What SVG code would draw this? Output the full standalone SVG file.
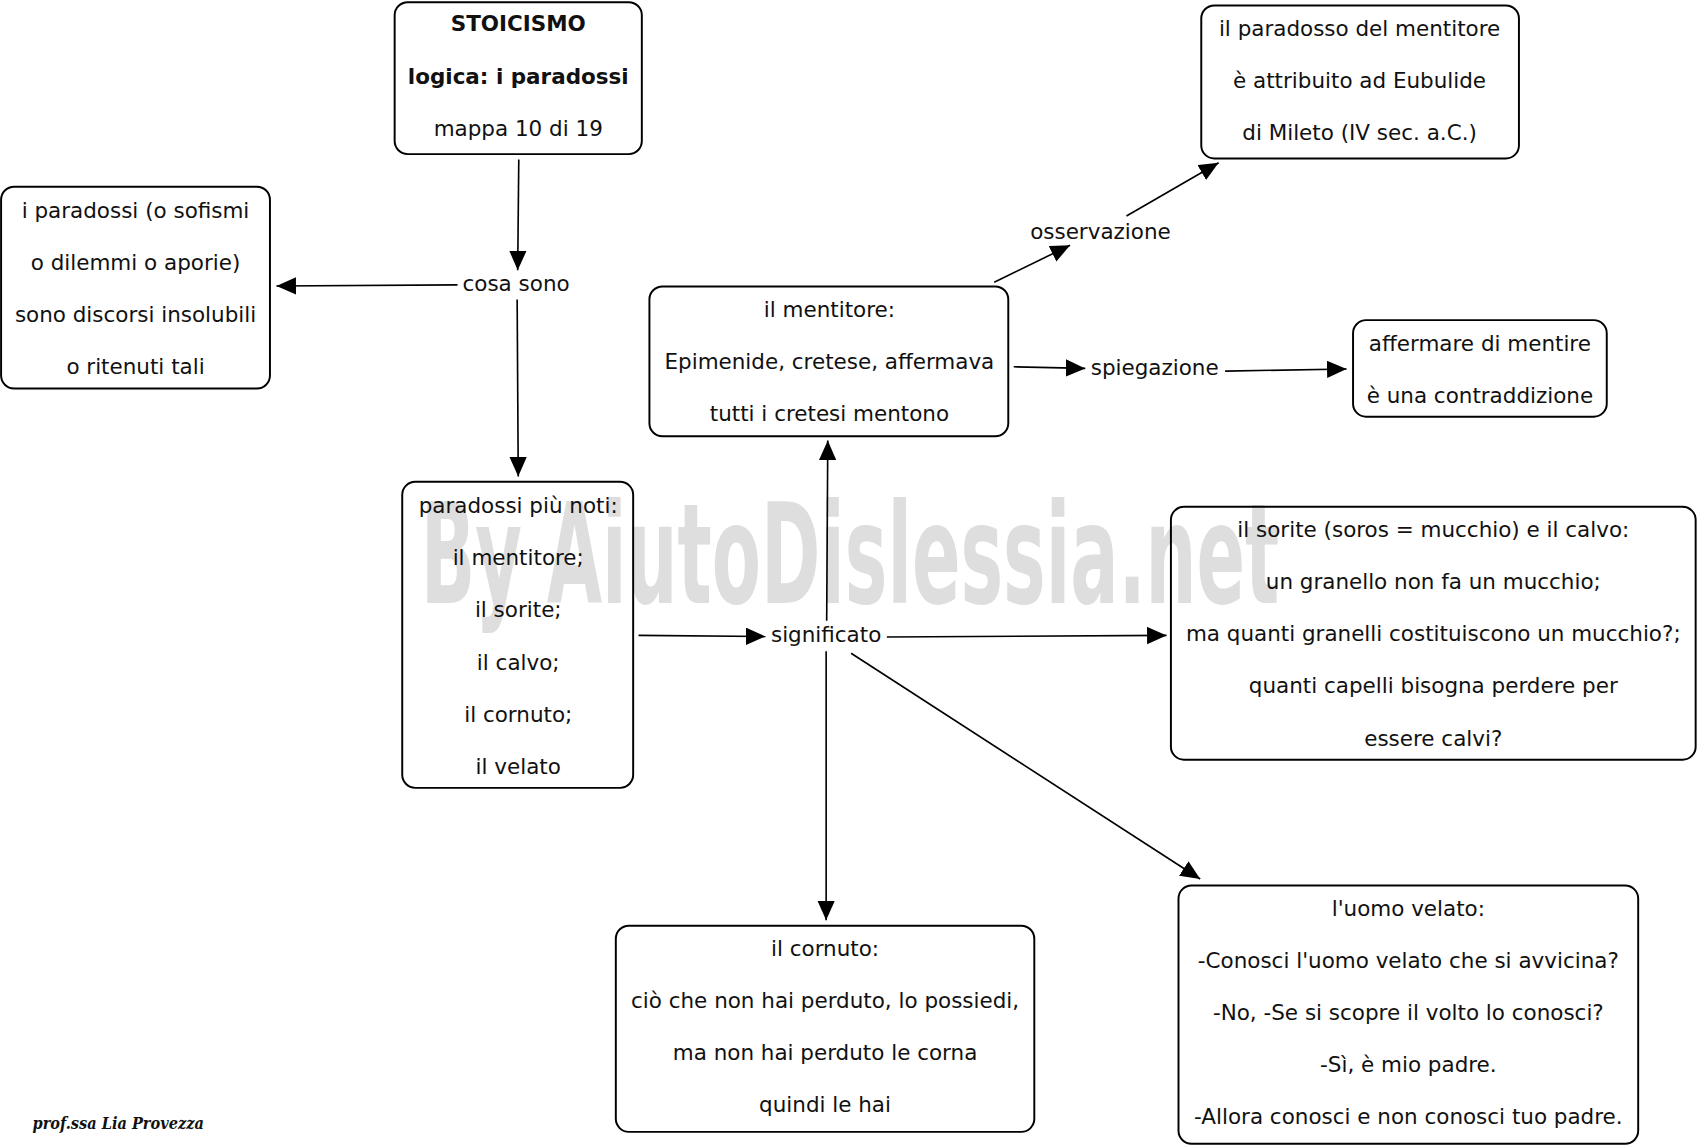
<svg xmlns="http://www.w3.org/2000/svg" width="1700" height="1146" viewBox="0 0 1700 1146">
<defs>
<marker id="ah" markerUnits="userSpaceOnUse" markerWidth="19" markerHeight="17" refX="18" refY="8" orient="auto">
<path d="M0,0 L18,8 L0,16 z" fill="#000"/>
</marker>
<style>
.box{fill:none;stroke:#000;stroke-width:1.8}
.t{font-family:"DejaVu Sans","Verdana",sans-serif;font-size:19.8px;fill:#111;text-anchor:middle}
.b{font-weight:bold}
.c{fill:none;stroke:#000;stroke-width:1.5;marker-end:url(#ah)}
.wm{font-family:"DejaVu Sans Condensed","DejaVu Sans",sans-serif;font-weight:bold;font-size:128px;fill:#dedede}
.sig{font-family:"DejaVu Serif","Liberation Serif",serif;font-style:italic;font-weight:bold;font-size:15px;fill:#111}
</style>
</defs>
<rect width="1700" height="1146" fill="#fff"/>
<g transform="scale(1.08418,1.08523)">
<text class="wm" x="388" y="556" textLength="792" lengthAdjust="spacingAndGlyphs">By AiutoDislessia.net</text>
<g id="connectors">
<line class="c" x1="478.5" y1="147" x2="477.5" y2="249"/>
<line class="c" x1="422" y1="262.5" x2="255" y2="263.5"/>
<line class="c" x1="477" y1="276" x2="478" y2="439"/>
<line class="c" x1="589" y1="585.5" x2="706" y2="586.5"/>
<line class="c" x1="818" y1="587" x2="1076" y2="585.5"/>
<line class="c" x1="762.5" y1="572" x2="763.5" y2="406"/>
<line class="c" x1="762" y1="600" x2="762" y2="848"/>
<line class="c" x1="785" y1="602" x2="1107" y2="810"/>
<line class="c" x1="917" y1="260" x2="987" y2="226"/>
<line class="c" x1="1039" y1="199" x2="1124" y2="150"/>
<line class="c" x1="935" y1="338" x2="1001" y2="339.5"/>
<line class="c" x1="1130" y1="342" x2="1242" y2="340"/>
</g>
<g id="n-stoicismo">
<rect class="box" x="364" y="2" width="228" height="140" rx="12"/>
<text class="t b" x="478" y="29">STOICISMO</text>
<text class="t b" x="478" y="77">logica: i paradossi</text>
<text class="t" x="478" y="125">mappa 10 di 19</text>
</g>
<g id="n-definizione">
<rect class="box" x="1" y="172" width="248" height="186" rx="12"/>
<text class="t" x="125" y="201">i paradossi (o sofismi</text>
<text class="t" x="125" y="249">o dilemmi o aporie)</text>
<text class="t" x="125" y="297">sono discorsi insolubili</text>
<text class="t" x="125" y="345">o ritenuti tali</text>
</g>
<g id="n-noti">
<rect class="box" x="371" y="444" width="213" height="282" rx="12"/>
<text class="t" x="478" y="473">paradossi più noti:</text>
<text class="t" x="478" y="521">il mentitore;</text>
<text class="t" x="478" y="569">il sorite;</text>
<text class="t" x="478" y="617">il calvo;</text>
<text class="t" x="478" y="665">il cornuto;</text>
<text class="t" x="478" y="713">il velato</text>
</g>
<g id="n-mentitore">
<rect class="box" x="599" y="264" width="331" height="138" rx="12"/>
<text class="t" x="765" y="292">il mentitore:</text>
<text class="t" x="765" y="340">Epimenide, cretese, affermava</text>
<text class="t" x="765" y="388">tutti i cretesi mentono</text>
</g>
<g id="n-eubulide">
<rect class="box" x="1108" y="5" width="293" height="141" rx="12"/>
<text class="t" x="1254" y="33">il paradosso del mentitore</text>
<text class="t" x="1254" y="81">è attribuito ad Eubulide</text>
<text class="t" x="1254" y="129">di Mileto (IV sec. a.C.)</text>
</g>
<g id="n-affermare">
<rect class="box" x="1248" y="295" width="234" height="89" rx="12"/>
<text class="t" x="1365" y="323">affermare di mentire</text>
<text class="t" x="1365" y="371">è una contraddizione</text>
</g>
<g id="n-sorite">
<rect class="box" x="1080" y="467" width="484" height="233" rx="12"/>
<text class="t" x="1322" y="495">il sorite (soros = mucchio) e il calvo:</text>
<text class="t" x="1322" y="543">un granello non fa un mucchio;</text>
<text class="t" x="1322" y="591">ma quanti granelli costituiscono un mucchio?;</text>
<text class="t" x="1322" y="639">quanti capelli bisogna perdere per</text>
<text class="t" x="1322" y="687">essere calvi?</text>
</g>
<g id="n-cornuto">
<rect class="box" x="568" y="853" width="386" height="190" rx="12"/>
<text class="t" x="761" y="881">il cornuto:</text>
<text class="t" x="761" y="929">ciò che non hai perduto, lo possiedi,</text>
<text class="t" x="761" y="977">ma non hai perduto le corna</text>
<text class="t" x="761" y="1025">quindi le hai</text>
</g>
<g id="n-velato">
<rect class="box" x="1087" y="816" width="424" height="238" rx="12"/>
<text class="t" x="1299" y="844">l'uomo velato:</text>
<text class="t" x="1299" y="892">-Conosci l'uomo velato che si avvicina?</text>
<text class="t" x="1299" y="940">-No, -Se si scopre il volto lo conosci?</text>
<text class="t" x="1299" y="988">-Sì, è mio padre.</text>
<text class="t" x="1299" y="1036">-Allora conosci e non conosci tuo padre.</text>
</g>
<g id="labels">
<text class="t" x="476" y="268">cosa sono</text>
<text class="t" x="1015" y="220">osservazione</text>
<text class="t" x="1065" y="346">spiegazione</text>
<text class="t" x="762" y="592">significato</text>
</g>
<text class="sig" x="30" y="1040" textLength="158" lengthAdjust="spacingAndGlyphs">prof.ssa Lia Provezza</text>
</g>
</svg>
